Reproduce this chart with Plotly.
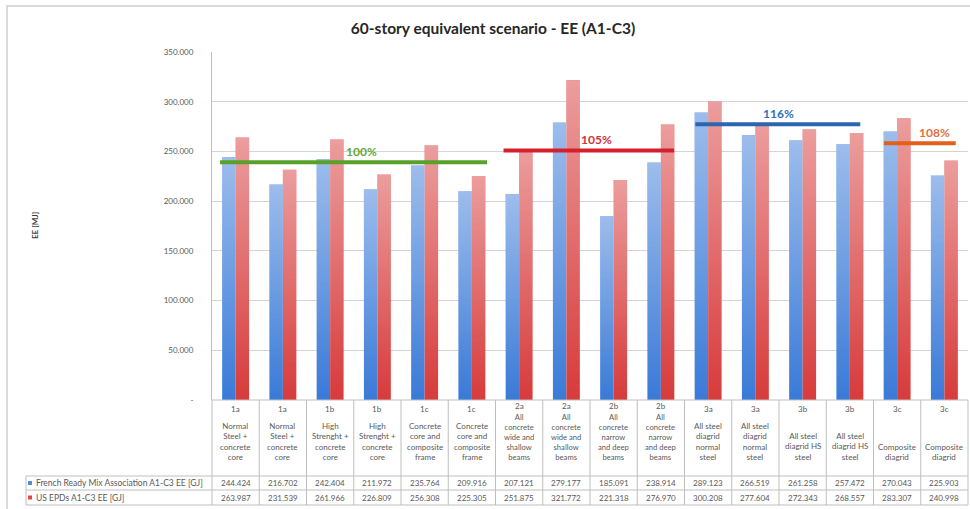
import base64
import struct
import zlib

import plotly.graph_objects as go

# ---- data -------------------------------------------------------------
codes = ["1a", "1a", "1b", "1b", "1c", "1c", "2a", "2a",
         "2b", "2b", "3a", "3a", "3b", "3b", "3c", "3c"]
descriptions = [
    ["Normal", "Steel +", "concrete", "core"],
    ["Normal", "Steel +", "concrete", "core"],
    ["High", "Strenght +", "concrete", "core"],
    ["High", "Strenght +", "concrete", "core"],
    ["Concrete", "core and", "composite", "frame"],
    ["Concrete", "core and", "composite", "frame"],
    ["All", "concrete", "wide and", "shallow", "beams"],
    ["All", "concrete", "wide and", "shallow", "beams"],
    ["All", "concrete", "narrow", "and deep", "beams"],
    ["All", "concrete", "narrow", "and deep", "beams"],
    ["All steel", "diagrid", "normal", "steel"],
    ["All steel", "diagrid", "normal", "steel"],
    ["All steel", "diagrid HS", "steel"],
    ["All steel", "diagrid HS", "steel"],
    ["Composite", "diagrid"],
    ["Composite", "diagrid"],
]
french = [244.424, 216.702, 242.404, 211.972, 235.764, 209.916, 207.121, 279.177,
          185.091, 238.914, 289.123, 266.519, 261.258, 257.472, 270.043, 225.903]
us_epd = [263.987, 231.539, 261.966, 226.809, 256.308, 225.305, 251.875, 321.772,
          221.318, 276.970, 300.208, 277.604, 272.343, 268.557, 283.307, 240.998]
series_names = ["French Ready Mix Association A1-C3 EE [GJ]", "US EPDs A1-C3 EE [GJ]"]

ytick_vals = [0, 50, 100, 150, 200, 250, 300, 350]
ytick_text = ["-", "50.000", "100.000", "150.000", "200.000", "250.000", "300.000", "350.000"]

# scenario groups: reference level (first group) and relative percentages
reference_level = 239
group_pcts = [100, 105, 116, 108]
group_labels = ["100%", "105%", "116%", "108%"]

# ---- layout geometry (pixels) ------------------------------------------
W, H = 970, 509
L, R, T, B = 212, 2, 52, 109
PW, PH = W - L - R, H - T - B
N = len(codes)
BARGAP = 0.43


def xp(x):
    return (x - L) / PW


def yp(y):
    return (H - B - y) / PH


BLUE = "#3b7bd8"
RED = "#d83c3c"
KEY_BLUE = "#4f8ce0"
KEY_RED = "#e04848"
GRID = "#d4d4d4"
BORDER = "#bfbfbf"
TXT = "#595959"
FONT = "Lato, Open Sans, sans-serif"


def sheen_png(height=64, top_alpha=0.5):
    """1px-wide white PNG fading from top_alpha at the top to clear at the bottom."""
    raw = b""
    for r in range(height):
        a = int(round(255 * top_alpha * (1 - r / (height - 1))))
        raw += b"\x00" + bytes([255, 255, 255, a])

    def chunk(tag, data):
        c = struct.pack(">I", len(data)) + tag + data
        return c + struct.pack(">I", zlib.crc32(tag + data) & 0xFFFFFFFF)

    png = b"\x89PNG\r\n\x1a\n"
    png += chunk(b"IHDR", struct.pack(">IIBBBBB", 1, height, 8, 6, 0, 0, 0))
    png += chunk(b"IDAT", zlib.compress(raw))
    png += chunk(b"IEND", b"")
    return "data:image/png;base64," + base64.b64encode(png).decode()


x_idx = list(range(N))

fig = go.Figure()
fig.add_trace(go.Bar(x=x_idx, y=french, name=series_names[0], marker_color=BLUE,
                     marker_line_width=0))
fig.add_trace(go.Bar(x=x_idx, y=us_epd, name=series_names[1], marker_color=RED,
                     marker_line_width=0))

# light-to-dark sheen on every bar (top lighter, base darker)
sheen = sheen_png()
bar_w = (1 - BARGAP) / 2
images = []
for i in range(N):
    for k, vals in enumerate([french, us_epd]):
        images.append(dict(source=sheen, xref="x", yref="y",
                           x=i - bar_w + k * bar_w, y=vals[i],
                           sizex=bar_w, sizey=vals[i], sizing="stretch",
                           xanchor="left", yanchor="top", layer="above"))

shapes = []
annotations = []

# outer chart frame
shapes.append(dict(type="rect", xref="paper", yref="paper",
                   x0=xp(7), x1=xp(990), y0=yp(530), y1=yp(6),
                   line=dict(color="#d0d0d0", width=1.5), layer="below"))

# scenario average lines with percentage labels
group_spans = [(-0.33, 5.32), (5.67, 9.28), (9.73, 13.22), (13.72, 15.24)]
label_x = [2.67, 7.63, 11.48, 14.8]
group_colors = ["#58a12a", "#d3202c", "#2b66b0", "#e0601c"]
label_colors = ["#62a833", "#d33040", "#3270b8", "#e2703e"]
for (x0, x1), pct, lab, lx, col, lcol in zip(group_spans, group_pcts, group_labels,
                                             label_x, group_colors, label_colors):
    level = reference_level * pct / 100
    shapes.append(dict(type="line", xref="x", yref="y", x0=x0, x1=x1, y0=level, y1=level,
                       line=dict(color=col, width=4), layer="above"))
    annotations.append(dict(x=lx, y=level, xref="x", yref="y", text=f"<b>{lab}</b>",
                            showarrow=False, yshift=11, yanchor="middle",
                            font=dict(family=FONT, size=12, color=lcol)))

# data table under the plot
table_left, table_right = 26, W - R
row_lines = [476, 490, 505]
for y in row_lines:
    shapes.append(dict(type="line", xref="paper", yref="paper",
                       x0=xp(table_left), x1=xp(table_right), y0=yp(y), y1=yp(y),
                       line=dict(color=BORDER, width=1)))
shapes.append(dict(type="line", xref="paper", yref="paper",
                   x0=0, x1=1, y0=0, y1=0, line=dict(color=BORDER, width=1)))
for k in range(N + 1):
    shapes.append(dict(type="line", xref="paper", yref="paper",
                       x0=k / N, x1=k / N, y0=yp(400), y1=yp(505),
                       line=dict(color=BORDER, width=1)))
shapes.append(dict(type="line", xref="paper", yref="paper",
                   x0=xp(table_left), x1=xp(table_left), y0=yp(476), y1=yp(505),
                   line=dict(color=BORDER, width=1)))

small = dict(family=FONT, size=8, color=TXT)
for i in range(N):
    lines = descriptions[i]
    tight = len(lines) >= 5
    annotations.append(dict(x=i, y=yp(405.5 if tight else 409), xref="x", yref="paper",
                            text=codes[i], showarrow=False, yanchor="middle",
                            font=small))
    annotations.append(dict(x=i, y=yp(464), xref="x", yref="paper",
                            text="<br>".join(lines), showarrow=False,
                            yanchor="bottom", align="center",
                            font=dict(family=FONT, size=7.6 if tight else 8, color=TXT)))
    annotations.append(dict(x=i, y=yp(483), xref="x", yref="paper", text=f"{french[i]:.3f}",
                            showarrow=False, yanchor="middle", font=small))
    annotations.append(dict(x=i, y=yp(497.5), xref="x", yref="paper", text=f"{us_epd[i]:.3f}",
                            showarrow=False, yanchor="middle", font=small))

# row headers with series keys
for name, col, yrow in zip(series_names, [KEY_BLUE, KEY_RED], [483, 497.5]):
    shapes.append(dict(type="rect", xref="paper", yref="paper",
                       x0=xp(28), x1=xp(32), y0=yp(yrow + 2), y1=yp(yrow - 2),
                       fillcolor=col, line=dict(width=0)))
    annotations.append(dict(x=xp(34), y=yp(yrow), xref="paper", yref="paper", text=name,
                            showarrow=False, xanchor="left", yanchor="middle",
                            font=dict(family=FONT, size=8.5, color=TXT)))

# y-axis title
annotations.append(dict(x=xp(28), y=0.5, xref="paper", yref="paper", text="<b>EE [MJ]</b>",
                        textangle=-90, showarrow=False,
                        font=dict(family=FONT, size=8, color="#404040")))

fig.update_layout(
    width=W, height=H,
    margin=dict(l=L, r=R, t=T, b=B, pad=0),
    paper_bgcolor="white", plot_bgcolor="white",
    barmode="group", bargap=BARGAP, bargroupgap=0,
    showlegend=False,
    title=dict(text="<b>60-story equivalent scenario - EE (A1-C3)</b>",
               x=493 / W, xanchor="center", xref="container",
               y=1 - 29 / H, yanchor="middle", yref="container",
               font=dict(family=FONT, size=15.5, color="#262626")),
    xaxis=dict(range=[-0.5, N - 0.5], showticklabels=False, showgrid=False,
               zeroline=False, showline=False, fixedrange=True),
    yaxis=dict(range=[0, 350], tickvals=ytick_vals, ticktext=ytick_text,
               showgrid=True, gridcolor=GRID, gridwidth=1.2, zeroline=False,
               showline=True, linecolor=BORDER, linewidth=1,
               ticks="", ticklabelstandoff=16,
               tickfont=dict(family=FONT, size=8, color=TXT)),
    images=images,
    shapes=shapes,
    annotations=annotations,
    font=dict(family=FONT),
)

fig.write_html("out.html")
